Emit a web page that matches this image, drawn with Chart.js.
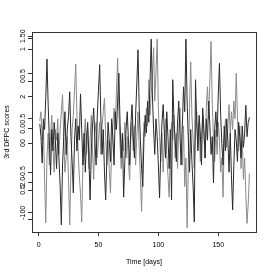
<!DOCTYPE html>
<html><head><meta charset="utf-8">
<script src="https://cdn.jsdelivr.net/npm/chart.js@4.4.1/dist/chart.umd.min.js"></script>
<style>html,body{margin:0;padding:0;background:#fff}canvas{display:block}</style>
</head><body>
<canvas id="c" width="273" height="273"></canvas>
<script>
const days = Array.from({length: 176}, (_, i) => i + 1);
const seriesA = [
 0.28,0.10,-0.27,0.35,0.20,0.65,1.19,0.55,0.05,-0.44,
 0.20,-0.10,0.30,0.05,-0.35,0.15,-0.20,-0.60,-1.14,-0.30,
 0.10,0.45,-0.15,0.20,0.40,0.73,0.10,-0.25,-0.69,0.05,
 0.35,-0.10,0.25,0.05,0.70,0.20,-0.30,0.15,-0.40,0.10,
 0.30,-0.20,-0.79,-0.10,0.25,0.50,0.05,-0.30,0.40,0.75,
 1.11,0.35,-0.15,0.20,-0.40,-0.79,-0.20,0.30,0.05,-0.25,
 0.35,0.10,-0.30,0.45,0.20,0.60,0.99,0.30,-0.20,0.15,
 -0.75,-0.25,0.20,0.45,0.05,-0.30,0.25,0.55,0.10,-0.20,
 0.40,0.85,1.32,0.50,0.05,-0.35,-0.60,0.10,0.40,0.15,
 0.60,0.30,0.85,1.47,0.70,0.20,-0.15,0.35,0.10,-0.30,
 -0.76,-0.10,0.30,0.55,0.15,-0.20,0.45,0.10,-0.35,0.20,
 -0.79,0.90,0.35,0.05,-0.25,0.30,0.60,0.15,-0.30,0.25,
 0.80,0.45,1.47,0.60,0.05,-0.40,0.20,-0.25,-0.60,-1.10,
 0.90,0.30,-0.10,0.40,0.15,-0.30,0.50,0.20,-0.20,0.35,
 0.05,0.60,0.25,-0.15,0.10,-0.55,0.20,0.45,0.10,0.70,
 1.13,0.40,0.00,-0.30,0.25,-0.10,0.35,0.05,-0.40,0.15,
 -0.45,-0.93,-0.30,0.20,0.05,-0.25,0.30,0.10,-0.20,0.25,
 -0.05,0.15,0.54,0.10,0.30,0.37
];
const seriesB = [
 0.32,0.45,0.05,0.25,-0.50,-1.11,-0.20,0.15,-0.30,0.10,
 0.40,-0.05,-0.40,0.20,0.05,0.35,-0.15,0.20,0.45,0.69,
 0.10,-0.40,-0.20,0.10,-0.55,-1.14,-0.35,0.20,0.40,0.75,
 1.12,0.40,-0.10,-0.45,-0.70,-1.10,-0.30,0.10,0.35,-0.15,
 0.20,-0.35,0.05,0.40,-0.10,-0.50,0.15,0.30,-0.20,0.05,
 0.30,-0.15,0.25,0.45,0.64,0.10,-0.30,0.05,-0.35,-0.69,
 -0.10,0.25,0.50,0.20,0.75,1.20,0.45,0.00,-0.35,0.15,
 -0.10,0.30,-0.20,0.10,-0.25,-0.51,0.05,0.30,-0.10,0.25,
 -0.30,0.10,0.45,-0.05,-0.50,-0.95,-0.20,0.30,0.10,0.50,
 0.25,0.90,0.40,0.70,0.95,1.35,0.60,1.00,1.47,0.50,
 0.10,-0.25,0.15,-0.40,0.05,0.35,-0.15,-0.45,-0.75,-0.10,
 0.30,0.05,0.40,-0.20,0.15,-0.35,0.20,0.50,0.10,-0.30,
 0.25,-0.60,-0.20,-1.18,-0.30,0.50,1.15,0.40,0.05,-0.35,
 0.20,0.45,-0.05,0.30,-0.25,0.10,0.40,0.15,-0.20,0.50,
 0.80,0.35,0.90,1.44,0.55,0.10,-0.25,0.20,-0.15,0.30,
 0.05,-0.40,-0.20,-0.75,0.10,0.35,-0.05,0.25,0.55,0.15,
 0.45,0.20,0.60,0.35,0.99,0.40,-0.10,0.25,-0.35,0.05,
 -0.50,-0.20,-0.70,-1.12,-0.85,-0.42
];
const xTickValues = [0, 50, 100, 150];
const yTickValues = [1.51, 1.48, 1.33, 0.98, 0.88, 0.66, 0.35, 0.21, 0.01, -0.40, -0.55, -0.65, -0.97, -1.07];
const yTickLabels = ['1.50', '', '1', '0.5', '0', '2', '0.5', '0.0', '00', '-0.5', '-2.0', '0.5', '-100', ''];

const FONT = {family: '"Liberation Sans", Arial, sans-serif', size: 7};

const boxPlugin = {
  id: 'box',
  afterDraw(chart) {
    const a = chart.chartArea, ctx = chart.ctx;
    ctx.save();
    ctx.strokeStyle = '#333';
    ctx.lineWidth = 1;
    ctx.strokeRect(Math.round(a.left) + 0.5, Math.round(a.top) + 0.5, Math.round(a.right - a.left), Math.round(a.bottom - a.top));
    ctx.restore();
  }
};

new Chart(document.getElementById('c'), {
  type: 'line',
  data: {
    datasets: [
      {label: 'A', data: days.map((d, i) => ({x: d, y: seriesA[i]})), borderColor: '#2a2a2a', borderWidth: 1, pointRadius: 0, tension: 0},
      {label: 'B', data: days.map((d, i) => ({x: d, y: seriesB[i]})), borderColor: '#8a8a8a', borderWidth: 1, pointRadius: 0, tension: 0}
    ]
  },
  options: {
    responsive: false,
    animation: false,
    devicePixelRatio: 1,
    layout: {padding: {left: 0, top: 32, right: 17, bottom: 0}},
    plugins: {legend: {display: false}, tooltip: {enabled: false}},
    scales: {
      x: {
        type: 'linear', min: -5.5, max: 181.5,
        afterBuildTicks(s) { s.ticks = xTickValues.map(v => ({value: v})); },
        afterFit(s) { s.height = 41; },
        border: {display: false},
        grid: {display: true, drawOnChartArea: false, drawTicks: true, tickLength: 4, color: '#333', tickColor: '#333'},
        ticks: {font: FONT, color: '#000', padding: 5, maxRotation: 0, autoSkip: false},
        title: {display: true, text: 'Time [days]', font: FONT, color: '#000', padding: {top: 2, bottom: 7}}
      },
      y: {
        type: 'linear', min: -1.24, max: 1.57,
        afterBuildTicks(s) { s.ticks = yTickValues.map(v => ({value: v})); },
        afterFit(s) { s.width = 32; },
        border: {display: false},
        grid: {display: true, drawOnChartArea: false, drawTicks: true, tickLength: 4, color: '#333', tickColor: '#333'},
        ticks: {
          font: FONT, color: '#000', autoSkip: false, minRotation: 90, maxRotation: 90,
          crossAlign: 'center', padding: -2,
          callback(v, i) { return yTickLabels[i]; }
        },
        title: {display: true, text: '3rd DFPC scores', font: FONT, color: '#000', padding: {top: 3, bottom: 0}}
      }
    }
  },
  plugins: [boxPlugin]
});
</script>
</body></html>
